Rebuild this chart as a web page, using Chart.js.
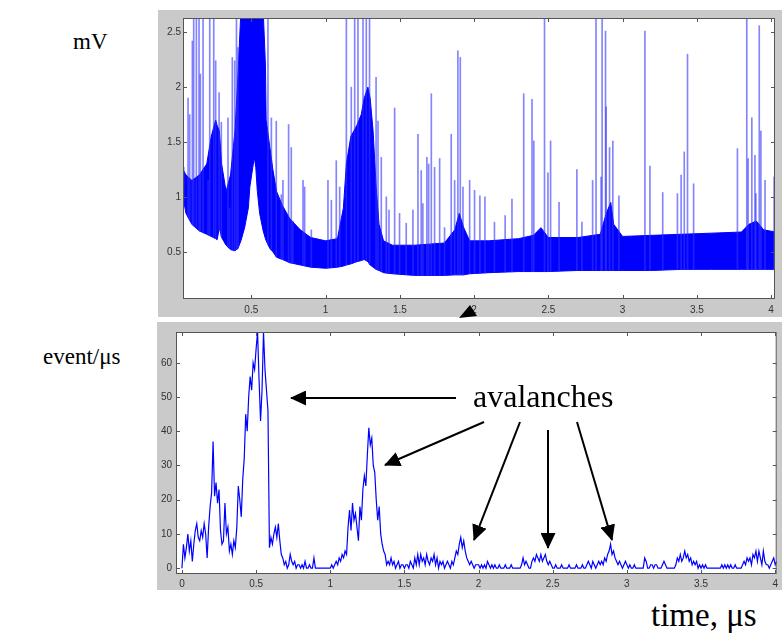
<!DOCTYPE html>
<html><head><meta charset="utf-8">
<script src="https://cdn.jsdelivr.net/npm/chart.js@4.4.1/dist/chart.umd.min.js"></script>
<style>
html,body{margin:0;padding:0;background:#fff;}
#wrap{position:relative;width:782px;height:640px;overflow:hidden;font-family:"Liberation Serif","Times New Roman",serif;}
.panel{position:absolute;background:#cacaca;}
#p1{left:158px;top:10px;width:624px;height:307px;}
#p2{left:157px;top:322px;width:625px;height:268px;}
canvas{display:block;}
.lab{position:absolute;color:#000;white-space:nowrap;line-height:1;}
svg{position:absolute;left:0;top:0;}
</style></head>
<body><div id="wrap">
<div class="panel" id="p1"><canvas id="c1" width="624" height="307"></canvas></div>
<div class="panel" id="p2"><canvas id="c2" width="625" height="268"></canvas></div>
<div class="lab" style="left:73px;top:30px;font-size:23px">mV</div>
<div class="lab" style="left:43px;top:345px;font-size:23px">event/μs</div>
<div class="lab" style="left:651px;top:599px;font-size:33px">time, μs</div>
<div class="lab" style="left:473px;top:380px;font-size:32px">avalanches</div>
<svg width="782" height="640">
<defs><marker id="ah" viewBox="0 0 16 15" refX="15" refY="7.5" markerWidth="16" markerHeight="15" markerUnits="userSpaceOnUse" orient="auto"><path d="M0,0 L16,7.5 L0,15 z" fill="#000"/></marker></defs>
<g stroke="#000" stroke-width="2" fill="none" marker-end="url(#ah)">
<line x1="456" y1="398" x2="291" y2="398"/>
<line x1="484" y1="422" x2="385" y2="465"/>
<line x1="520" y1="422" x2="474" y2="540"/>
<line x1="548" y1="430" x2="548" y2="548"/>
<line x1="577" y1="422" x2="612" y2="540"/>
</g>
<path d="M470,305 L459,318 L477,316 z" fill="#000"/>
</svg>
</div>
<script>
// ---- top panel: signal, mV ----
const topXTicks = [0.5, 1, 1.5, 2, 2.5, 3, 3.5, 4];
const topYTicks = [0.5, 1, 1.5, 2, 2.5];
const bandTime = [0.04,0.06,0.10,0.15,0.20,0.23,0.26,0.27,0.285,0.30,0.33,0.36,0.39,0.41,0.43,0.455,0.48,0.49,0.51,0.52,0.53,0.54,0.556,0.58,0.595,0.60,0.625,0.645,0.67,0.71,0.76,0.83,0.90,1.00,1.08,1.12,1.14,1.17,1.21,1.24,1.26,1.285,1.30,1.32,1.34,1.36,1.39,1.45,1.60,1.80,1.87,1.90,1.93,1.97,2.10,2.30,2.40,2.45,2.50,2.70,2.85,2.89,2.92,2.94,3.00,3.20,3.40,3.60,3.80,3.85,3.90,3.95,4.03];
const bandLow  = [1.00,0.85,0.75,0.69,0.66,0.64,0.62,0.61,0.72,0.63,0.56,0.52,0.51,0.53,0.60,0.72,0.90,1.09,1.27,1.36,1.27,1.06,0.85,0.69,0.62,0.60,0.53,0.50,0.45,0.43,0.40,0.38,0.36,0.35,0.36,0.37,0.38,0.39,0.41,0.42,0.43,0.41,0.38,0.36,0.34,0.33,0.31,0.30,0.285,0.285,0.29,0.29,0.29,0.30,0.31,0.32,0.32,0.32,0.32,0.33,0.33,0.33,0.33,0.33,0.33,0.33,0.34,0.34,0.34,0.34,0.34,0.34,0.34];
const bandHigh = [1.25,1.20,1.15,1.20,1.30,1.55,1.70,1.65,1.60,1.30,1.05,1.20,1.60,2.10,2.70,2.70,2.70,2.70,2.70,2.70,2.70,2.70,2.70,2.70,2.20,1.70,1.45,1.25,1.05,0.92,0.80,0.70,0.63,0.60,0.62,0.90,1.30,1.55,1.65,1.75,1.90,2.00,1.90,1.60,1.10,0.75,0.60,0.56,0.56,0.58,0.70,0.85,0.72,0.60,0.60,0.62,0.65,0.72,0.63,0.63,0.66,0.85,0.95,0.75,0.64,0.65,0.66,0.67,0.68,0.75,0.78,0.70,0.68];
const spikeTime = [0.045,0.074,0.085,0.103,0.112,0.13,0.148,0.157,0.175,0.209,0.22,0.247,0.26,0.283,0.298,0.343,0.354,0.372,0.388,0.40,0.41,0.612,0.635,0.668,0.702,0.713,0.751,0.769,0.78,0.848,0.859,0.904,1.016,1.039,1.072,1.095,1.14,1.173,1.196,1.218,1.252,1.274,1.296,1.34,1.353,1.375,1.409,1.427,1.465,1.498,1.543,1.588,1.622,1.644,1.655,1.682,1.694,1.712,1.734,1.768,1.801,1.846,1.869,1.891,1.907,1.925,1.97,2.003,2.039,2.073,2.137,2.209,2.255,2.334,2.39,2.402,2.474,2.497,2.515,2.572,2.692,2.726,2.798,2.821,2.855,2.862,2.885,2.889,2.912,2.934,2.975,3.15,3.184,3.27,3.369,3.394,3.415,3.437,3.478,3.773,3.836,3.845,3.87,3.891,3.897,3.92,3.931,3.959,4.02];
const spikePeak = [1.27,1.90,1.75,2.42,2.70,2.70,2.70,2.12,2.70,1.15,2.70,2.70,2.24,1.95,1.68,1.72,0.90,2.27,2.24,2.70,2.36,2.70,1.72,1.69,1.02,1.15,1.66,1.45,0.78,1.15,1.09,0.70,1.15,0.97,1.33,1.09,2.70,2.00,2.70,2.70,2.70,2.70,2.70,2.09,1.69,1.36,1.00,0.88,1.81,0.85,0.76,0.88,1.57,1.24,0.94,1.36,1.30,1.94,1.27,1.35,0.72,1.57,1.15,2.33,2.27,1.09,1.15,1.06,1.01,1.00,0.77,0.83,0.98,1.94,1.89,1.51,2.70,1.22,1.51,0.95,1.25,0.77,1.15,2.70,1.18,2.70,2.51,1.82,1.45,1.51,1.01,2.51,1.28,1.04,1.03,1.20,1.41,2.30,1.12,1.44,2.70,1.35,1.72,1.38,1.03,2.56,1.60,1.15,1.18];

// ---- bottom panel: event rate, event/us, sampled every 0.01 us from 0 ----
const rateStart = 0, rateStep = 0.01;
const eventRate = [
0,7,3,6,10,5,8,2,7,11,
13,9,8,11,9,13,10,3,12,18,
22,37,21,25,19,23,11,7,8,19,
10,12,5,7,4,8,6,12,24,20,
15,26,32,45,40,50,56,52,60,58,
64,69,55,43,52,69,58,52,46,6,
9,7,10,12,9,13,8,4,3,1,
2,0,1,4,2,1,2,0,1,1,
0,1,0,2,0,0,1,0,0,3,
0,0,0,0,0,0,0,0,0,0,
0,1,0,1,2,1,3,2,4,3,
5,4,12,17,11,19,14,16,12,8,
18,14,23,27,24,33,41,36,38,30,
28,20,14,18,10,7,5,4,1,2,
1,3,1,2,0,1,2,0,1,1,
0,1,1,0,2,1,0,3,1,4,
1,4,2,3,1,4,2,1,3,2,
4,1,3,0,2,1,2,0,1,2,
1,0,2,1,3,5,4,7,9,6,
8,5,3,2,1,2,1,0,1,1,
1,0,1,0,1,0,2,1,0,1,
0,1,0,0,1,0,0,0,1,0,
0,0,1,0,0,0,0,0,0,1,
3,1,2,1,0,0,2,3,2,4,
3,2,4,2,3,4,2,1,2,1,
0,0,1,0,0,0,1,0,0,0,
0,1,0,0,0,0,1,0,0,0,
1,0,0,1,2,1,0,2,1,0,
1,2,1,2,1,3,2,4,5,7,
4,5,3,2,1,2,1,0,1,2,
1,0,1,0,0,1,0,0,0,0,
0,0,3,2,0,0,1,1,0,1,
1,0,0,0,1,2,1,0,0,0,
0,0,0,1,3,2,4,2,3,5,
3,4,2,3,1,2,1,2,0,1,
0,1,0,1,0,0,0,0,0,0,
0,0,0,0,1,0,1,0,1,0,
1,0,0,1,0,0,0,0,1,2,
1,3,2,3,1,4,3,5,2,5,
3,1,5,2,1,1,0,1,2,3,
1,2];
const botXTicks = [0, 0.5, 1, 1.5, 2, 2.5, 3, 3.5, 4];
const botYTicks = [0, 10, 20, 30, 40, 50, 60];

// spikes rise from inside the dense band (its lower edge at that time)
function bandFloorAt(t) {
  for (let i = 1; i < bandTime.length; i++) {
    if (t <= bandTime[i]) {
      const f = (t - bandTime[i - 1]) / (bandTime[i] - bandTime[i - 1]);
      return bandLow[i - 1] + f * (bandLow[i] - bandLow[i - 1]);
    }
  }
  return bandLow[bandLow.length - 1];
}

const framePlugin = {
  id: 'frame',
  beforeDraw(chart) {
    const {ctx, chartArea: a} = chart;
    ctx.save(); ctx.fillStyle = '#fff';
    ctx.fillRect(a.left, a.top, a.right - a.left, a.bottom - a.top);
    ctx.restore();
  },
  afterDraw(chart) {
    const {ctx, chartArea: a, scales} = chart;
    ctx.save();
    ctx.strokeStyle = '#555'; ctx.lineWidth = 1;
    ctx.strokeRect(a.left + 0.5, a.top + 0.5, a.right - a.left - 1, a.bottom - a.top - 1);
    ctx.beginPath();
    scales.x.ticks.forEach(t => {
      const p = Math.round(scales.x.getPixelForValue(t.value)) + 0.5;
      ctx.moveTo(p, a.bottom); ctx.lineTo(p, a.bottom - 4);
      ctx.moveTo(p, a.top); ctx.lineTo(p, a.top + 4);
    });
    scales.y.ticks.forEach(t => {
      const p = Math.round(scales.y.getPixelForValue(t.value)) + 0.5;
      ctx.moveTo(a.left, p); ctx.lineTo(a.left + 4, p);
      ctx.moveTo(a.right, p); ctx.lineTo(a.right - 4, p);
    });
    ctx.stroke();
    ctx.restore();
  }
};

const tickFont = {family: '"Liberation Sans", Arial, sans-serif', size: 10};
function axis(min, max, ticks, pad, extra) {
  return Object.assign({
    type: 'linear', min, max, offset: false,
    grid: {display: false, drawTicks: false, tickLength: 0}, border: {display: false},
    afterBuildTicks: s => { s.ticks = ticks.map(v => ({value: v})); },
    ticks: {font: tickFont, color: '#333', autoSkip: false, maxRotation: 0, padding: pad, callback: v => String(v)}
  }, extra);
}

new Chart(document.getElementById('c1'), {
  type: 'line',
  data: {datasets: [
    {type: 'bar', data: spikeTime.map((t, i) => ({x: t, y: [bandFloorAt(t), spikePeak[i]]})),
     backgroundColor: 'rgba(50,50,255,0.6)', barThickness: 1, clip: 0},
    {data: bandTime.map((t, i) => ({x: t, y: bandLow[i]})), borderColor: '#0000ff', borderWidth: 1,
     pointRadius: 0, fill: false, clip: 0},
    {data: bandTime.map((t, i) => ({x: t, y: bandHigh[i]})), borderColor: '#0000ff', borderWidth: 1,
     pointRadius: 0, fill: '-1', backgroundColor: '#0000ff', clip: 0}
  ]},
  options: {
    responsive: false, animation: false, devicePixelRatio: 1,
    layout: {padding: {left: 0, right: 7, top: 8, bottom: 0}},
    plugins: {legend: {display: false}, tooltip: {enabled: false}},
    scales: {
      x: axis(0.04, 4.026, topXTicks, 5, {afterFit: s => { s.height = 18; }}),
      y: axis(0.07, 2.63, topYTicks, 2, {afterFit: s => { s.width = 25; }})
    }
  },
  plugins: [framePlugin]
});
new Chart(document.getElementById('c2'), {
  type: 'line',
  data: {datasets: [
    {data: eventRate.map((v, i) => ({x: rateStart + i * rateStep, y: v})), borderColor: '#0000ff',
     borderWidth: 1.2, pointRadius: 0, fill: false, clip: 0}
  ]},
  options: {
    responsive: false, animation: false, devicePixelRatio: 1,
    layout: {padding: {left: 0, right: 1, top: 6, bottom: 0}},
    plugins: {legend: {display: false}, tooltip: {enabled: false}},
    scales: {
      x: axis(-0.04, 4.01, botXTicks, 4, {afterFit: s => { s.height = 16; }}),
      y: axis(-1.7, 69, botYTicks, 4, {afterFit: s => { s.width = 19; }})
    }
  },
  plugins: [framePlugin]
});
</script>
</body></html>
